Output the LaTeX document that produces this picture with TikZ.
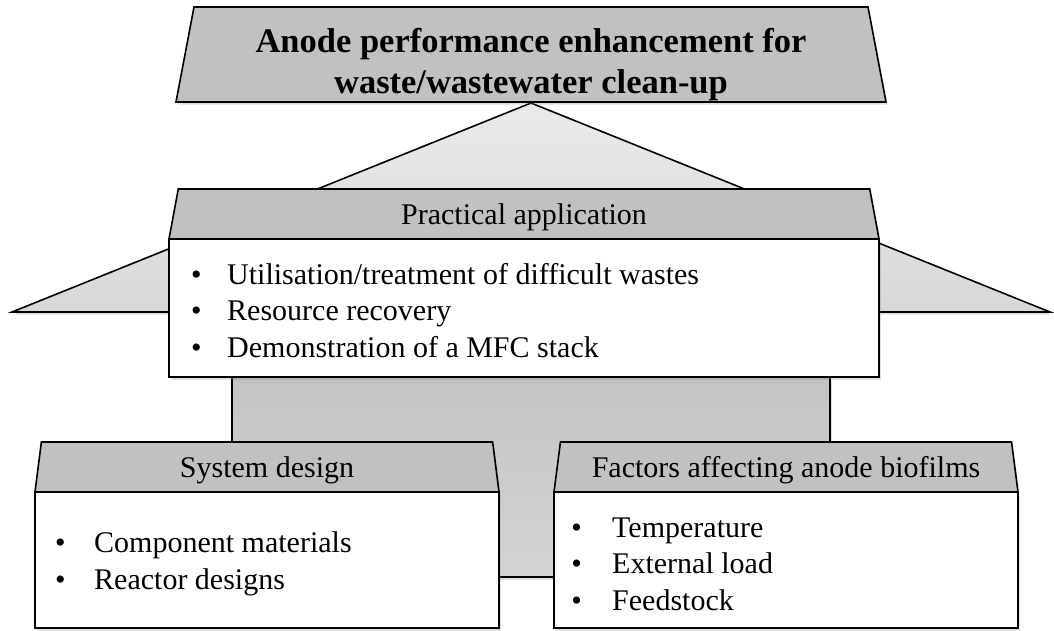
\documentclass[tikz,border=0pt]{standalone}
\usepackage{fontspec}
\setmainfont{Liberation Serif}
\usetikzlibrary{shapes.geometric, positioning, shadows}
\definecolor{headgray}{RGB}{193,193,193}
\definecolor{rooftop}{RGB}{234,234,234}
\definecolor{roofbot}{RGB}{216,216,216}
\definecolor{walltop}{RGB}{196,196,196}
\definecolor{wallbot}{RGB}{212,212,212}
\newcommand{\bitem}[2][36pt]{\makebox[#1][l]{\textbullet}#2}
\tikzstyle{softshadow} = [drop shadow={opacity=0.25, shadow xshift=1.5pt, shadow yshift=-2.5pt}]
\tikzstyle{header} = [trapezium, trapezium stretches body, draw=black, line width=1.6pt, fill=headgray, outer sep=0pt, inner sep=0pt, text centered, text depth=0pt, font=\fontsize{30}{36}\selectfont, softshadow]
\tikzstyle{titlebox} = [header, align=center, font=\fontsize{34.5}{41}\selectfont\bfseries]
\tikzstyle{bodybox} = [rectangle, draw=black, line width=1.6pt, fill=white, outer sep=0pt, inner sep=0pt, softshadow]
\tikzstyle{itemlist} = [inner sep=0pt, align=left, font=\fontsize{30}{36.5}\selectfont]
\tikzstyle{roof} = [draw=black, line width=1.6pt, top color=rooftop, bottom color=roofbot, softshadow]
\tikzstyle{wall} = [rectangle, draw=black, line width=1.6pt, top color=walltop, bottom color=wallbot, softshadow]

\begin{document}
\begin{tikzpicture}[x=1pt, y=-1pt]
\useasboundingbox (0,0) rectangle (1054,630);

% Roof and walls
\coordinate (apex) at (531,103);
\coordinate (eaveL) at (12,312);
\coordinate (eaveR) at (1050,312);
\path[roof] (apex) -- (eaveL) -- (eaveR) -- cycle;
\node[wall, minimum width=598pt, minimum height=200pt] (walls) at (531,477) {};

% Title
\node[titlebox, trapezium angle=77, minimum width=710pt, minimum height=95pt] (title) at (531,54.5) {\rule{0pt}{37pt}Anode performance enhancement for\\waste/wastewater clean-up};

% Practical application
\node[header, trapezium angle=66, minimum width=710pt, minimum height=50pt] (pracHead) at (524,214) {Practical application};
\node[bodybox, minimum width=710pt, minimum height=138pt, below=0pt of pracHead] (pracBody) {};
\node[itemlist, anchor=west] (pracList) at ([xshift=22pt, yshift=-2.5pt]pracBody.west) {\bitem{Utilisation/treatment of difficult wastes}\\\bitem{Resource recovery}\\\bitem{Demonstration of a MFC stack}};

% System design
\node[header, trapezium angle=73, minimum width=464pt, minimum height=50pt] (sysHead) at (267,467) {System design};
\node[bodybox, minimum width=464pt, minimum height=136pt, below=0pt of sysHead] (sysBody) {};
\node[itemlist, anchor=west] (sysList) at ([xshift=20pt, yshift=-4pt]sysBody.west) {\bitem[39pt]{Component materials}\\\bitem[39pt]{Reactor designs}};

% Factors affecting anode biofilms
\node[header, trapezium angle=73, minimum width=464pt, minimum height=50pt] (facHead) at (786,467) {Factors affecting anode biofilms};
\node[bodybox, minimum width=464pt, minimum height=136pt, below=0pt of facHead] (facBody) {};
\node[itemlist, anchor=west] (facList) at ([xshift=17pt, yshift=-4pt]facBody.west) {\bitem[41pt]{Temperature}\\\bitem[41pt]{External load}\\\bitem[41pt]{Feedstock}};

\end{tikzpicture}
\end{document}
